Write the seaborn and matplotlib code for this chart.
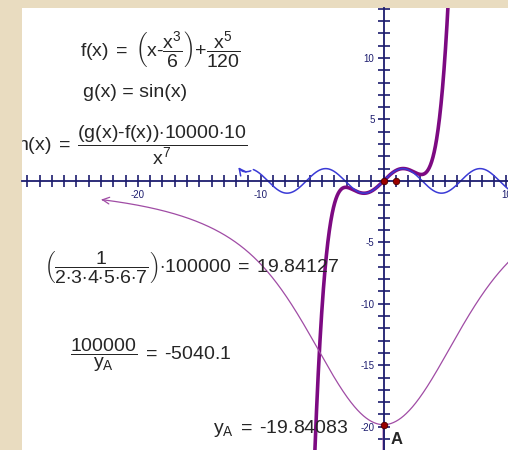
import numpy as np
import seaborn as sns
import matplotlib.pyplot as plt
from matplotlib.ticker import MultipleLocator, FuncFormatter

# function definitions shown in the picture
f_coef = [1, -1 / 6, 1 / 120]      # x, x^3, x^5
h_scale = 10000 * 10
h_start = -23.2                    # left end of h (arrow)
sin_start = -10.6                  # left end of g before the arrow
sin_arrow_tip = (-11.95, 1.3)
points_x = [0, 1, 0]
points_y = [0, 0, -19.84083]
xlim = (-29.4, 10.1)
ylim = (-21.9, 14.07)

def f(x):
    return f_coef[0] * x + f_coef[1] * x ** 3 + f_coef[2] * x ** 5

def h(x):
    return (np.sin(x) - f(x)) * h_scale / x ** 7

sns.set_theme(style="white")
plt.rcParams['font.family'] = ['Liberation Sans', 'DejaVu Sans']
plt.rcParams['mathtext.fontset'] = 'custom'
plt.rcParams['mathtext.rm'] = 'Liberation Sans'
plt.rcParams['mathtext.it'] = 'Liberation Sans'
plt.rcParams['mathtext.bf'] = 'Liberation Sans:bold'

fig = plt.figure(figsize=(5.08, 4.5), dpi=100, facecolor='#e9dcc0')
ax = fig.add_axes([22 / 508, 0, 486 / 508, 442 / 450])
ax.set_facecolor('white')

navy = '#1c1c6e'

# curves
xf = np.linspace(-8, 8, 800)
sns.lineplot(x=xf, y=f(xf), ax=ax, color='#7d0a82', lw=2.6, sort=False, estimator=None)

xs = np.linspace(sin_start, 10.5, 600)
sns.lineplot(x=xs, y=np.sin(xs), ax=ax, color='#3a3ad6', lw=1.1, sort=False, estimator=None)
ax.annotate('', xy=sin_arrow_tip, xytext=(sin_start, np.sin(sin_start)),
            arrowprops=dict(arrowstyle='->', color='#3a3ad6', lw=1.1,
                            connectionstyle='arc3,rad=-0.5'))

xh = np.linspace(h_start + 0.3, 10.5, 800)
xh = xh[np.abs(xh) > 1e-3]
sns.lineplot(x=xh, y=h(xh), ax=ax, color='#a04ca5', lw=0.9, sort=False, estimator=None)
ax.annotate('', xy=(h_start, h(h_start)), xytext=(h_start + 0.6, h(h_start + 0.6)),
            arrowprops=dict(arrowstyle='->', color='#a04ca5', lw=0.9))

sns.scatterplot(x=points_x, y=points_y, ax=ax, color='#9a0000', s=22,
                edgecolor='#4a0000', linewidth=0.6, zorder=5)
ax.text(0.55, -21.05, 'A', fontsize=12, fontweight='bold', va='center', ha='left')

# axes through origin
ax.set_xlim(xlim)
ax.set_ylim(ylim)
ax.set_aspect('equal')
for s in ['top', 'right']:
    ax.spines[s].set_visible(False)
ax.spines['left'].set_position('zero')
ax.spines['bottom'].set_position('zero')
for s in ['left', 'bottom']:
    ax.spines[s].set_color(navy)
    ax.spines[s].set_linewidth(1.3)
ax.xaxis.set_major_locator(MultipleLocator(1))
ax.yaxis.set_major_locator(MultipleLocator(1))
ax.xaxis.set_minor_locator(MultipleLocator(5))
ax.yaxis.set_minor_locator(MultipleLocator(5))
ax.xaxis.set_major_formatter(FuncFormatter(lambda v, p: f'{int(round(v))}' if round(v) % 10 == 0 and round(v) != 0 else ''))
ax.yaxis.set_major_formatter(FuncFormatter(lambda v, p: f'{int(round(v))}' if round(v) % 5 == 0 and round(v) != 0 else ''))
ax.tick_params(which='major', direction='inout', length=9, width=1.2, color=navy,
               labelsize=7, labelcolor=navy, pad=2, bottom=True, left=True)
ax.tick_params(which='minor', length=0, bottom=False, left=False)
ax.grid(which='minor', color='#d2d2d2', lw=0.9)
ax.grid(which='major', visible=False)

# formulas
fs = 14
eq = r'\;=\;'
ax.text(-24.7, 10.65, r'$\mathrm{f(x)}' + eq + r'\left(\mathrm{x\text{-}}\dfrac{\mathrm{x^3}}{6}\right)\mathrm{+}\dfrac{\mathrm{x^5}}{120}$',
        fontsize=fs, va='center', ha='left')
ax.text(-24.5, 7.2, 'g(x) = sin(x)', fontsize=fs, va='center', ha='left')
ax.text(-29.8, 2.9, r'$\mathrm{h(x)}' + eq + r'\dfrac{\mathrm{(g(x)\text{-}f(x)){\cdot}10000{\cdot}10}}{\mathrm{x^7}}$',
        fontsize=fs, va='center', ha='left', clip_on=True)
ax.text(-27.6, -7.1, r'$\left(\dfrac{1}{2{\cdot}3{\cdot}4{\cdot}5{\cdot}6{\cdot}7}\right){\cdot}100000' + eq + r'19.84127$',
        fontsize=fs, va='center', ha='left')
ax.text(-25.5, -14.2, r'$\dfrac{100000}{\mathrm{y_A}}' + eq + r'\text{-}5040.1$',
        fontsize=fs, va='center', ha='left')
ax.text(-13.9, -20.15, r'$\mathrm{y_A}' + eq + r'\text{-}19.84083$',
        fontsize=fs, va='center', ha='left')

fig.savefig('out.png', dpi=100, facecolor=fig.get_facecolor())
